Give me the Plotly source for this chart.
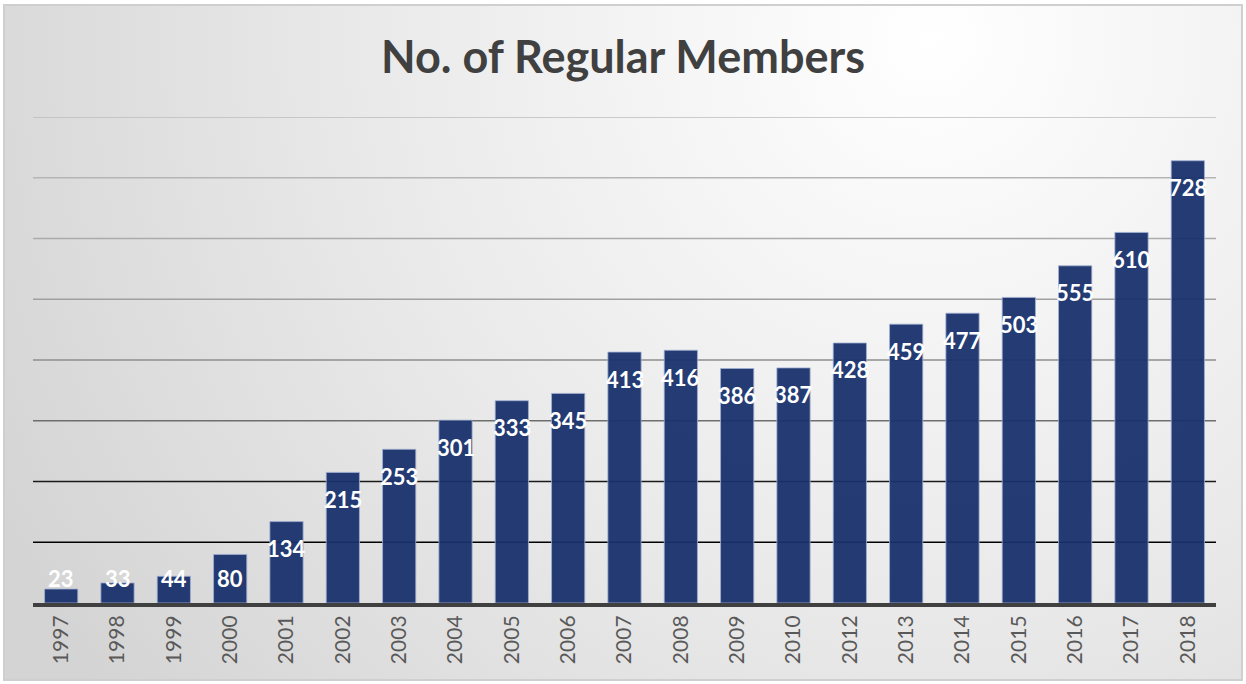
import base64
import plotly.graph_objects as go

years = ["1997", "1998", "1999", "2000", "2001", "2002", "2003", "2004", "2005", "2006",
         "2007", "2008", "2009", "2010", "2012", "2013", "2014", "2015", "2016", "2017", "2018"]
members = [23, 33, 44, 80, 134, 215, 253, 301, 333, 345,
           413, 416, 386, 387, 428, 459, 477, 503, 555, 610, 728]
grid_values = [100, 200, 300, 400, 500, 600, 700, 800]
grid_colors = ["#000000", "#1a1a1a", "#6e6e6e", "#8e8e8e", "#a0a0a0", "#ababab", "#b5b5b5", "#bdbdbd"]

W, H = 1246, 684
L, R, T, B = 33, 30, 117, 81
PW, PH = W - L - R, H - T - B
px_per_unit = PH / 800.0

svg = f'''<svg xmlns="http://www.w3.org/2000/svg" width="{W}" height="{H}" viewBox="0 0 {W} {H}">
<defs><radialGradient id="g" gradientUnits="userSpaceOnUse" cx="930" cy="40" r="1050">
<stop offset="0" stop-color="#ffffff"/><stop offset="0.55" stop-color="#e9e9e9"/><stop offset="1" stop-color="#d4d4d4"/>
</radialGradient></defs>
<rect x="4" y="5" width="1238" height="675" fill="url(#g)" stroke="#cfcfcf" stroke-width="2"/>
</svg>'''
src = "data:image/svg+xml;base64," + base64.b64encode(svg.encode()).decode()

fig = go.Figure()
fig.add_trace(go.Bar(
    x=years, y=members,
    marker=dict(color="rgba(24,50,108,0.95)", line=dict(color="rgba(160,175,210,0.8)", width=1)),
    hoverinfo="x+y",
))

# labels near the top end of each bar (x as category index)
off = 27 / px_per_unit
low = 25 / px_per_unit
for i, v in enumerate(members):
    fig.add_annotation(x=i, y=max(v - off, low), text=f"<b>{v}</b>", showarrow=False,
                       font=dict(family="Lato", size=22, color="white"),
                       xanchor="center", yanchor="middle")

for gv, gc in zip(grid_values, grid_colors):
    fig.add_shape(type="line", xref="paper", x0=0, x1=1, yref="y", y0=gv, y1=gv,
                  line=dict(color=gc, width=1.5), layer="below")

fig.add_layout_image(dict(source=src, xref="paper", yref="paper",
                          x=-L / PW, y=1 + T / PH, sizex=W / PW, sizey=H / PH,
                          xanchor="left", yanchor="top", sizing="stretch", layer="below"))

fig.update_layout(
    width=W, height=H,
    margin=dict(l=L, r=R, t=T, b=B),
    paper_bgcolor="rgba(0,0,0,0)", plot_bgcolor="rgba(0,0,0,0)",
    title=dict(text="<b>No. of Regular Members</b>", x=0.5, xanchor="center",
               y=1 - 57 / H, yanchor="middle",
               font=dict(family="Lato", size=45, color="#404040")),
    bargap=0.41,
    showlegend=False,
    xaxis=dict(type="category", range=[-0.5, len(years) - 0.5], autorange=False,
               automargin=False, tickangle=-90, showgrid=False, ticks="",
               showline=True, linecolor="#404040", linewidth=4,
               tickfont=dict(family="Lato", size=21, color="#595959")),
    yaxis=dict(range=[0, 800], autorange=False, automargin=False, showgrid=False,
               zeroline=False, showticklabels=False),
)

fig.write_html("out.html", config={"displayModeBar": False},
               post_script="document.body.style.margin='0';")
